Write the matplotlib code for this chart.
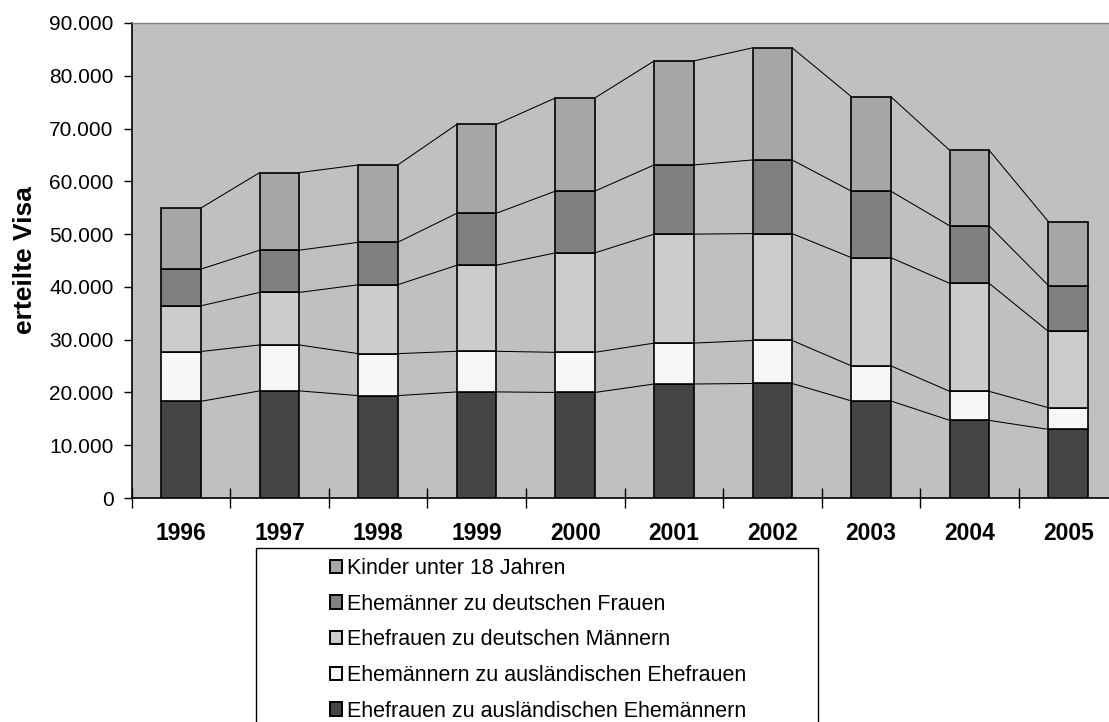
import matplotlib
matplotlib.use("Agg")
import matplotlib.pyplot as plt
from matplotlib.patches import Patch, Rectangle
import numpy as np

years = ['1996', '1997', '1998', '1999', '2000', '2001', '2002', '2003', '2004', '2005']
ehefrauen_ausl = [18300, 20300, 19400, 20100, 20000, 21600, 21700, 18400, 14700, 13000]
ehemaenner_ausl = [9450, 8700, 7950, 7700, 7600, 7750, 8150, 6650, 5500, 4100]
ehefrauen_dt = [8650, 9950, 13050, 16300, 18850, 20650, 20250, 20500, 20450, 14450]
ehemaenner_dt = [6950, 8000, 8050, 9850, 11700, 13100, 13950, 12600, 10900, 8700]
kinder = [11550, 14700, 14650, 16850, 17650, 19700, 21250, 17900, 14300, 12100]

series = [
    ("Ehefrauen zu ausländischen Ehemännern", ehefrauen_ausl, "#444444"),
    ("Ehemännern zu ausländischen Ehefrauen", ehemaenner_ausl, "#F7F7F7"),
    ("Ehefrauen zu deutschen Männern", ehefrauen_dt, "#CCCCCC"),
    ("Ehemänner zu deutschen Frauen", ehemaenner_dt, "#808080"),
    ("Kinder unter 18 Jahren", kinder, "#A6A6A6"),
]

plt.rcParams['font.family'] = ['Liberation Sans', 'DejaVu Sans']

W, H = 1109, 722
fig = plt.figure(figsize=(W / 100, H / 100), dpi=100)
left, right, top, bottom = 131.5, 1117.5, 23, 498
ax = fig.add_axes([left / W, 1 - bottom / H, (right - left) / W, (bottom - top) / H])
ax.set_facecolor("#C0C0C0")

x = np.arange(len(years))
bw = 0.4
base = np.zeros(len(years))
for name, vals, col in series:
    vals = np.array(vals, dtype=float)
    ax.bar(x, vals, bw, bottom=base, color=col, edgecolor="black", linewidth=1.2, zorder=3)
    tops = base + vals
    for i in range(len(years) - 1):
        ax.plot([x[i] + bw / 2, x[i + 1] - bw / 2], [tops[i], tops[i + 1]],
                color="black", linewidth=0.75, zorder=2)
    base = tops

ax.set_xlim(-0.5, len(years) - 0.5)
ax.set_ylim(0, 90000)
yt = np.arange(0, 90001, 10000)
ax.set_yticks(yt)
ax.set_yticklabels([f"{v:,.0f}".replace(",", ".") for v in yt], fontsize=15)
ax.set_xticks(x)
ax.set_xticklabels(years, fontsize=16.5, fontweight="bold")
ax.set_xticks(np.arange(-0.5, len(years), 1.0), minor=True)
ax.tick_params(axis="x", which="major", length=0, pad=17)
ax.tick_params(axis="x", which="minor", length=15, direction="inout", width=1, color="black")
ax.tick_params(axis="y", direction="out", length=6, width=1, pad=7, color="black")

ax.spines["top"].set_color("#808080")
ax.spines["top"].set_linewidth(1.0)
ax.spines["right"].set_visible(False)
ax.spines["left"].set_color("black")
ax.spines["left"].set_linewidth(1.2)
ax.spines["bottom"].set_color("black")
ax.spines["bottom"].set_linewidth(1.2)

fig.text(25 / W, 1 - 260 / H, "erteilte Visa", rotation=90, fontsize=19,
         fontweight="bold", ha="center", va="center")

# legend frame
fig.patches.append(Rectangle((256 / W, -0.05), (818 - 256) / W, (722 - 548) / H + 0.05,
                             transform=fig.transFigure, facecolor="white",
                             edgecolor="black", linewidth=1.0, zorder=1))
handles = [Patch(facecolor=c, edgecolor="black", linewidth=1.4) for _, _, c in series][::-1]
labels = [n for n, _, _ in series][::-1]
leg = fig.legend(handles, labels, loc="upper left",
                 bbox_to_anchor=(330 / W, 1 - 558 / H), frameon=False,
                 fontsize=15.5, handlelength=0.58, handleheight=0.58,
                 handletextpad=0.22, labelspacing=0.68, borderpad=0, borderaxespad=0)
leg.set_zorder(5)

fig.savefig("out.png", dpi=100)
